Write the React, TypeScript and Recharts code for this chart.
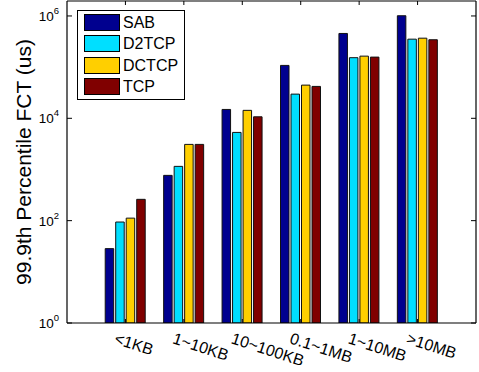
import React from 'react';
import { BarChart, Bar, XAxis, YAxis, Legend } from 'recharts';

const categories = ['<1KB', '1~10KB', '10~100KB', '0.1~1MB', '1~10MB', '>10MB'];
const sab = [28.4, 767, 14900, 108000, 455000, 1010000];
const d2tcp = [94, 1150, 5300, 29700, 153000, 352000];
const dctcp = [112, 3090, 14300, 44500, 164000, 368000];
const tcp = [261, 3090, 10700, 42000, 157000, 343000];
const seriesNames = ['SAB', 'D2TCP', 'DCTCP', 'TCP'];
const seriesColors = ['#00008F', '#00DFFF', '#FFCF00', '#800000'];
const yTicks = [1, 100, 10000, 1000000];
const yDomain = [1, 1960000];
const yLabel = '99.9th Percentile FCT (us)';

const seriesValues = [sab, d2tcp, dctcp, tcp];
const data = categories.map((c, i) => {
  const row: Record<string, number | string> = { cat: c };
  seriesNames.forEach((s, k) => {
    row[s] = seriesValues[k][i];
  });
  return row;
});

const FONT = '"Liberation Sans", Arial, Helvetica, sans-serif';
const W = 479;
const H = 372;
const LEFT = 67;
const RIGHT = 3;
const TOP_AXIS_H = 1;
const BOTTOM = 49;
const PLOT_W = W - LEFT - RIGHT;
const PAD = PLOT_W / 14;

const EmptyTick = () => <g />;

const YTick = (props: any) => {
  const { y, payload } = props;
  const exp = Math.round(Math.log10(payload.value));
  return (
    <text x={LEFT - 8} y={y} textAnchor="end" dominantBaseline="central" fontFamily={FONT} fontSize={13.5} fill="#000">
      <tspan>10</tspan>
      <tspan dy={-6} fontSize={9.5}>{exp}</tspan>
    </text>
  );
};

const XTick = (props: any) => {
  const { x, payload } = props;
  const tx = x - 12;
  const ty = H - BOTTOM + 20;
  return (
    <text
      x={tx}
      y={ty}
      textAnchor="start"
      fontFamily={FONT}
      fontSize={16}
      fill="#000"
      transform={`rotate(18 ${tx} ${ty})`}
    >
      {payload.value}
    </text>
  );
};

const LegendBox = () => (
  <div
    style={{
      boxSizing: 'border-box',
      width: 108,
      height: 90,
      border: '1px solid #000',
      background: '#fff',
      position: 'relative',
      fontFamily: FONT,
    }}
  >
    {seriesNames.map((s, i) => (
      <div
        key={s}
        style={{
          position: 'absolute',
          left: 6,
          top: 3 + i * 21.3,
          height: 17,
          display: 'flex',
          alignItems: 'center',
        }}
      >
        <div
          style={{
            boxSizing: 'border-box',
            width: 36,
            height: 17,
            background: seriesColors[i],
            border: '1px solid #000',
          }}
        />
        <span style={{ marginLeft: 3, fontSize: 16, color: '#000', lineHeight: '17px' }}>{s}</span>
      </div>
    ))}
  </div>
);

export default function App() {
  return (
    <div style={{ position: 'absolute', left: 0, top: 0, width: W, height: H, background: '#fff' }}>
      <BarChart
        width={W}
        height={H}
        data={data}
        margin={{ top: 0, right: 0, bottom: 0, left: 0 }}
        barSize={8.5}
        barGap={2}
      >
        {seriesNames.map((s, i) => (
          <Bar
            key={s}
            dataKey={s}
            fill={seriesColors[i]}
            stroke="#111"
            strokeWidth={1}
            isAnimationActive={false}
          />
        ))}
        <XAxis
          dataKey="cat"
          height={BOTTOM}
          padding={{ left: PAD, right: PAD }}
          tickSize={-4}
          tickLine={{ stroke: '#000' }}
          axisLine={{ stroke: '#000', strokeWidth: 1.2 }}
          tick={<XTick />}
          interval={0}
        />
        <XAxis
          xAxisId="top"
          dataKey="cat"
          orientation="top"
          height={TOP_AXIS_H}
          padding={{ left: PAD, right: PAD }}
          tickSize={-4}
          tickLine={{ stroke: '#000' }}
          axisLine={{ stroke: '#000', strokeWidth: 1.2 }}
          tick={<EmptyTick />}
          interval={0}
        />
        <YAxis
          type="number"
          scale="log"
          domain={yDomain}
          allowDataOverflow
          ticks={yTicks}
          width={LEFT}
          tickSize={-5}
          tickLine={{ stroke: '#000' }}
          axisLine={{ stroke: '#000', strokeWidth: 1.2 }}
          tick={<YTick />}
          interval={0}
          label={{
            content: (p: any) => {
              const vb = p.viewBox || {};
              const cy = (vb.y ?? TOP_AXIS_H) + (vb.height ?? H - BOTTOM - TOP_AXIS_H) / 2;
              const cx = 23;
              return (
                <text
                  x={cx}
                  y={cy}
                  textAnchor="middle"
                  dominantBaseline="central"
                  fontFamily={FONT}
                  fontSize={21}
                  fill="#000"
                  transform={`rotate(-90 ${cx} ${cy})`}
                >
                  {yLabel}
                </text>
              );
            },
          }}
        />
        <YAxis
          yAxisId="right"
          orientation="right"
          type="number"
          scale="log"
          domain={yDomain}
          allowDataOverflow
          ticks={yTicks}
          width={RIGHT}
          tickSize={-5}
          tickLine={{ stroke: '#000' }}
          axisLine={{ stroke: '#000', strokeWidth: 1.2 }}
          tick={<EmptyTick />}
          interval={0}
        />
        <Legend
          layout="vertical"
          align="center"
          verticalAlign="middle"
          wrapperStyle={{ left: 77, top: 10, width: 108, height: 90 }}
          content={<LegendBox />}
        />
      </BarChart>
    </div>
  );
}
